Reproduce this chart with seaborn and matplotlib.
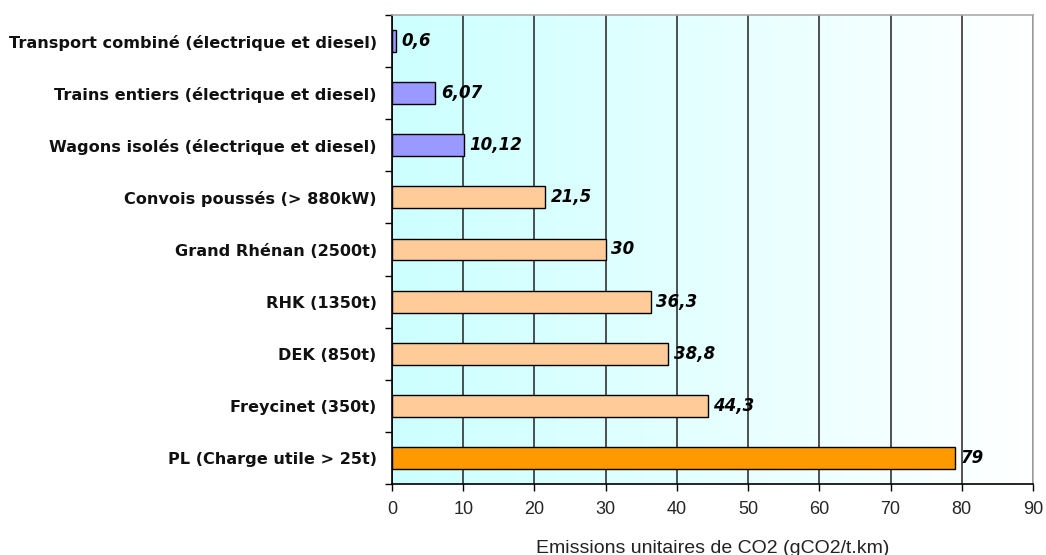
import numpy as np
import matplotlib
matplotlib.use("Agg")
import matplotlib.pyplot as plt
from matplotlib.colors import LinearSegmentedColormap
from matplotlib.ticker import FixedLocator
import seaborn as sns

categories = [
    "Transport combiné (électrique et diesel)",
    "Trains entiers (électrique et diesel)",
    "Wagons isolés (électrique et diesel)",
    "Convois poussés (> 880kW)",
    "Grand Rhénan (2500t)",
    "RHK (1350t)",
    "DEK (850t)",
    "Freycinet (350t)",
    "PL (Charge utile > 25t)",
]
values = [0.6, 6.07, 10.12, 21.5, 30, 36.3, 38.8, 44.3, 79]
value_labels = ["0,6", "6,07", "10,12", "21,5", "30", "36,3", "38,8", "44,3", "79"]
bar_colors = ["#9999ff", "#9999ff", "#9999ff",
              "#ffcc99", "#ffcc99", "#ffcc99", "#ffcc99", "#ffcc99",
              "#ff9900"]
x_ticks = [0, 10, 20, 30, 40, 50, 60, 70, 80, 90]
x_title = "Emissions unitaires de CO2 (gCO2/t.km)"

sns.set_theme(style="white")
plt.rcParams["font.family"] = ["DejaVu Sans"]

fig = plt.figure(figsize=(10.46, 5.55), dpi=100)
ax = fig.add_axes([392 / 1046, 1 - 484 / 555, (1033 - 392) / 1046, (484 - 15) / 555])

# horizontal gradient backdrop: pale cyan on the left fading to white
grad = LinearSegmentedColormap.from_list("bg", ["#ccffff", "#ffffff"])
ax.imshow(np.linspace(0, 1, 256).reshape(1, -1), cmap=grad, aspect="auto",
          extent=[0, 1, 0, 1], transform=ax.transAxes, zorder=0)

palette = dict(zip(categories, bar_colors))
sns.barplot(x=values, y=categories, hue=categories, palette=palette,
            order=categories, hue_order=categories, legend=False,
            orient="h", width=0.42, edgecolor="black", linewidth=1.0,
            saturation=1, ax=ax, zorder=3)

ax.set_xlim(0, 90)
ax.set_ylim(len(categories) - 0.5, -0.5)
ax.set_xticks(x_ticks)
ax.set_xticklabels([str(t) for t in x_ticks], fontsize=13,
                   family=["Liberation Sans Narrow", "Liberation Sans"])
ax.tick_params(axis="x", direction="out", length=5, width=1, color="black",
               bottom=True, pad=7)

# category labels at bar centres, tick marks on the band boundaries
ax.set_yticks(range(len(categories)))
ax.set_yticklabels(categories, fontsize=11.6, fontweight="bold", color="#111111")
ax.tick_params(axis="y", which="major", length=0, pad=11)
ax.yaxis.set_minor_locator(FixedLocator(np.arange(-0.5, len(categories), 1.0)))
ax.tick_params(axis="y", which="minor", left=True, direction="out",
               length=5, width=1, color="black")

ax.grid(axis="x", color="#222222", linewidth=1.1, zorder=1)
ax.set_axisbelow(True)
for side in ("left", "bottom"):
    ax.spines[side].set_color("black")
    ax.spines[side].set_linewidth(1.2)
for side in ("top", "right"):
    ax.spines[side].set_color("#aaaaaa")
    ax.spines[side].set_linewidth(1.2)

for container in ax.containers:
    for bar in container:
        idx = int(round(bar.get_y() + bar.get_height() / 2))
        ax.annotate(value_labels[idx], xy=(bar.get_width(), idx),
                    xytext=(4, 0), textcoords="offset points",
                    ha="left", va="center", fontsize=12,
                    fontweight="bold", fontstyle="italic", color="black",
                    zorder=4)

ax.set_ylabel("")
ax.set_xlabel(x_title, fontsize=14,
              family=["Liberation Sans Narrow", "Liberation Sans"],
              color="#222222", labelpad=16)

fig.savefig("out.png", dpi=100)
